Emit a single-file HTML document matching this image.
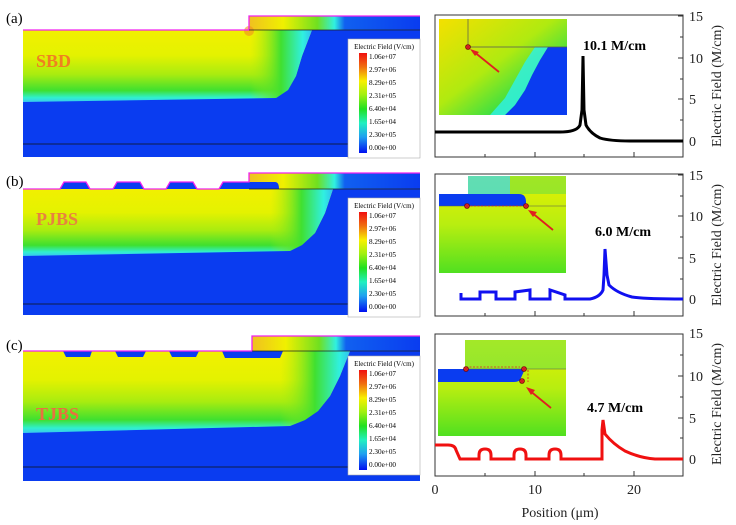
<!DOCTYPE html>
<html><head><meta charset="utf-8"><style>
html,body{margin:0;padding:0;background:#fff;}
svg{display:block;font-family:"Liberation Serif",serif;}
</style></head><body>
<svg width="736" height="525" viewBox="0 0 736 525" xmlns="http://www.w3.org/2000/svg">
<defs>
<linearGradient id="dep" x1="0" y1="0" x2="0" y2="1">
 <stop offset="0" stop-color="#f2f000"/><stop offset="0.35" stop-color="#e4f200"/>
 <stop offset="0.62" stop-color="#a8ec10"/><stop offset="0.84" stop-color="#3ee030"/>
 <stop offset="0.94" stop-color="#30f0d0"/><stop offset="1" stop-color="#38c8f0"/>
</linearGradient>
<linearGradient id="stepg" x1="0" y1="0" x2="1" y2="0">
 <stop offset="0" stop-color="#f0c020"/><stop offset="0.2" stop-color="#f0f000"/>
 <stop offset="0.4" stop-color="#70e020"/><stop offset="0.5" stop-color="#30f0e0"/>
 <stop offset="0.56" stop-color="#1060f0"/><stop offset="1" stop-color="#0a3cf0"/>
</linearGradient>
<linearGradient id="side" x1="0" y1="0" x2="1" y2="0">
 <stop offset="0" stop-color="#a8ec10" stop-opacity="0"/><stop offset="0.5" stop-color="#40e030"/>
 <stop offset="0.85" stop-color="#30f0e0"/><stop offset="1" stop-color="#30c0f0"/>
</linearGradient>
<linearGradient id="insA" x1="0" y1="0" x2="1" y2="1">
 <stop offset="0" stop-color="#f4e000"/><stop offset="0.45" stop-color="#b0ea10"/>
 <stop offset="0.7" stop-color="#40e040"/><stop offset="1" stop-color="#30e0d0"/>
</linearGradient>
<linearGradient id="insB" x1="0" y1="0" x2="0" y2="1">
 <stop offset="0" stop-color="#e8f000"/><stop offset="0.5" stop-color="#b8ee10"/>
 <stop offset="1" stop-color="#50e020"/>
</linearGradient>
<linearGradient id="leg" x1="0" y1="0" x2="0" y2="1">
 <stop offset="0" stop-color="#f01010"/><stop offset="0.14" stop-color="#f07010"/>
 <stop offset="0.28" stop-color="#f8f000"/><stop offset="0.42" stop-color="#a0f010"/>
 <stop offset="0.56" stop-color="#20e020"/><stop offset="0.7" stop-color="#20f0c0"/>
 <stop offset="0.84" stop-color="#20a0f0"/><stop offset="1" stop-color="#0010f0"/>
</linearGradient>
<g id="legend">
 <rect x="348" y="23" width="72" height="119" fill="#fff" stroke="#aaa" stroke-width="0.6"/>
 <text x="384" y="33" font-size="7" text-anchor="middle">Electric Field (V/cm)</text>
 <rect x="359" y="37" width="8" height="100" fill="url(#leg)"/>
 <g font-size="7.2">
 <text x="369" y="43">1.06e+07</text><text x="369" y="56">2.97e+06</text>
 <text x="369" y="69">8.29e+05</text><text x="369" y="82">2.31e+05</text>
 <text x="369" y="95">6.40e+04</text><text x="369" y="108">1.65e+04</text>
 <text x="369" y="121">2.30e+05</text><text x="369" y="134">0.00e+00</text>
 </g>
</g>
</defs>

<!-- Panel a -->
<g transform="translate(0,16)">
 <rect x="23" y="14" width="397" height="127" fill="#0a3cf0"/>
 <rect x="249" y="0" width="171" height="14" fill="url(#stepg)"/>
 <path d="M23 14 H312 L302 40 L296 60 L288 74 L276 82 L23 86 Z" fill="url(#dep)"/>
 <path d="M250 14 H312 L302 40 L296 60 L288 74 L276 82 L250 82 Z" fill="url(#side)"/>
 <circle cx="249" cy="15" r="5" fill="#f09020" opacity="0.6"/>
 <path d="M23 14 H249 V0 H420" fill="none" stroke="#f020f0" stroke-width="1.3"/>
 <line x1="249" y1="14" x2="420" y2="14" stroke="#222" stroke-width="0.8"/>
 <line x1="23" y1="128" x2="420" y2="128" stroke="#111" stroke-width="0.8"/>
 <text x="36" y="51" font-size="18" font-weight="bold" fill="#f08020">SBD</text>
 <use href="#legend"/>
</g>
<text x="6" y="23" font-size="15">(a)</text>

<!-- Panel b -->
<g transform="translate(0,173)">
 <rect x="23" y="16" width="397" height="126" fill="#0a3cf0"/>
 <rect x="249" y="0" width="171" height="16" fill="url(#stepg)"/>
 <path d="M23 16 H333 L325 40 L315 60 L302 72 L290 78 L23 83 Z" fill="url(#dep)"/>
 <path d="M270 16 H333 L325 40 L315 60 L302 72 L290 78 L270 78 Z" fill="url(#side)"/>
 <g fill="#0a3cf0">
  <path d="M60 16 L64 9 H86 L90 16 Z"/><path d="M113 16 L117 9 H140 L144 16 Z"/>
  <path d="M166 16 L170 9 H193 L197 16 Z"/><path d="M219 16 L223 9 H275 Q279 9 279 16 Z"/>
 </g>
 <path d="M23 16 H60 L64 9 H86 L90 16 H113 L117 9 H140 L144 16 H166 L170 9 H193 L197 16 H219 L223 9 H249 V0 H420" fill="none" stroke="#f020f0" stroke-width="1.3"/>
 <line x1="249" y1="16" x2="420" y2="16" stroke="#222" stroke-width="0.8"/>
 <line x1="23" y1="131" x2="420" y2="131" stroke="#111" stroke-width="0.8"/>
 <text x="36" y="52" font-size="18" font-weight="bold" fill="#e88040">PJBS</text>
 <use href="#legend" transform="translate(0,2)"/>
</g>
<text x="6" y="186" font-size="15">(b)</text>

<!-- Panel c -->
<g transform="translate(0,336)">
 <rect x="23" y="15" width="397" height="130" fill="#0a3cf0"/>
 <rect x="252" y="0" width="168" height="15" fill="url(#stepg)"/>
 <path d="M23 15 H350 L340 40 L330 60 L318 75 L305 84 L290 90 L23 97 Z" fill="url(#dep)"/>
 <path d="M280 15 H350 L340 40 L330 60 L318 75 L305 84 L290 90 L280 90 Z" fill="url(#side)"/>
 <g fill="#0a3cf0">
  <path d="M63 15 H92 L90 21 H66 Z"/><path d="M115 15 H146 L143 21 H118 Z"/>
  <path d="M169 15 H199 L196 21 H172 Z"/><path d="M222 15 H283 L280 22 H225 Z"/>
 </g>
 <path d="M23 15 H252 V0 H420" fill="none" stroke="#f020f0" stroke-width="1.3"/>
 <line x1="252" y1="15" x2="420" y2="15" stroke="#222" stroke-width="0.8"/>
 <line x1="23" y1="131" x2="420" y2="131" stroke="#111" stroke-width="0.8"/>
 <text x="36" y="84" font-size="18" font-weight="bold" fill="#e87040">TJBS</text>
 <use href="#legend" transform="translate(0,-3)"/>
</g>
<text x="6" y="350" font-size="15">(c)</text>

<!-- Plots -->
<g fill="none" stroke="#333" stroke-width="1">
 <rect x="435" y="15" width="248" height="142"/>
 <rect x="435" y="174" width="248" height="142"/>
 <rect x="435" y="334" width="248" height="142"/>
</g>
<g stroke="#333" stroke-width="1">
 <path d="M683 16h-5M683 58h-5M683 99h-5M683 141h-5M683 37h-3M683 79h-3M683 120h-3"/>
 <path d="M683 175h-5M683 216h-5M683 258h-5M683 299h-5M683 196h-3M683 237h-3M683 279h-3"/>
 <path d="M683 334h-5M683 376h-5M683 418h-5M683 459h-5M683 355h-3M683 397h-3M683 438h-3"/>
 <path d="M485 157v-3M535 157v-5M584 157v-3M634 157v-5"/>
 <path d="M485 316v-3M535 316v-5M584 316v-3M634 316v-5"/>
 <path d="M485 476v-3M535 476v-5M584 476v-3M634 476v-5"/>
</g>
<g font-size="14" fill="#222">
 <text x="689" y="21">15</text><text x="689" y="63">10</text><text x="689" y="104">5</text><text x="689" y="146">0</text>
 <text x="689" y="180">15</text><text x="689" y="221">10</text><text x="689" y="263">5</text><text x="689" y="304">0</text>
 <text x="689" y="338">15</text><text x="689" y="381">10</text><text x="689" y="423">5</text><text x="689" y="464">0</text>
 <text x="435" y="494" text-anchor="middle">0</text><text x="535" y="494" text-anchor="middle">10</text><text x="634" y="494" text-anchor="middle">20</text>
 <text x="560" y="517" text-anchor="middle">Position (μm)</text>
 <text transform="translate(721,86) rotate(-90)" text-anchor="middle">Electric Field (M/cm)</text>
 <text transform="translate(721,245) rotate(-90)" text-anchor="middle">Electric Field (M/cm)</text>
 <text transform="translate(721,404) rotate(-90)" text-anchor="middle">Electric Field (M/cm)</text>
</g>

<!-- insets -->
<g>
 <rect x="439" y="19" width="128" height="96" fill="url(#insA)"/>
 <path d="M548 47 H567 V115 H505 L515 105 L525 90 L532 75 L540 60 Z" fill="#0a3cf0"/>
 <path d="M535 47 H548 L540 60 L532 75 L525 90 L515 105 L505 115 H490 L505 98 L515 80 L525 62 Z" fill="#30f0e0" opacity="0.85"/>
 <path d="M468 19 V47 H567" fill="none" stroke="#555" stroke-width="0.7"/>
 <circle cx="468" cy="47" r="2.5" fill="#d02020" stroke="#600" stroke-width="0.6"/>
 <path d="M499 72 L473 51" stroke="#e02020" stroke-width="1.8"/><path d="M470 49 L479 52 L475 56 Z" fill="#e02020"/>
</g>
<g>
 <rect x="439" y="176" width="127" height="97" fill="url(#insB)"/>
 <rect x="439" y="176" width="29" height="18" fill="#fff"/>
 <path d="M468 176 H510 V194 H468 Z" fill="#40d8e0" opacity="0.8"/>
 <path d="M510 176 H566 V194 H510 Z" fill="#70e040" opacity="0.6"/>
 <path d="M439 194 H519 Q526 194 526 202 V206 H439 Z" fill="#0a3cf0"/>
 <line x1="439" y1="206" x2="566" y2="206" stroke="#555" stroke-width="0.6"/>
 <line x1="467" y1="206" x2="523" y2="206" stroke="#e02020" stroke-width="0.8" stroke-dasharray="2 1.5"/>
 <circle cx="467" cy="206" r="2.5" fill="#d02020" stroke="#600" stroke-width="0.6"/>
 <circle cx="526" cy="206" r="2.5" fill="#d02020" stroke="#600" stroke-width="0.6"/>
 <path d="M553 230 L531 212" stroke="#e02020" stroke-width="1.8"/><path d="M528 210 L537 212 L533 217 Z" fill="#e02020"/>
</g>
<g>
 <rect x="438" y="340" width="128" height="96" fill="url(#insB)"/>
 <rect x="465" y="340" width="101" height="29" fill="#60e050" opacity="0.5"/>
 <rect x="438" y="340" width="27" height="29" fill="#fff"/>
 <path d="M438 369 H520 L525 369 L520 380 Q518 382 514 382 H438 Z" fill="#0a3cf0"/>
 <line x1="465" y1="369" x2="566" y2="369" stroke="#555" stroke-width="0.6"/>
 <line x1="466" y1="367" x2="520" y2="367" stroke="#e02020" stroke-width="0.8" stroke-dasharray="2 1.5"/>
 <line x1="528" y1="370" x2="528" y2="382" stroke="#e02020" stroke-width="0.8" stroke-dasharray="2 1.5"/>
 <circle cx="466" cy="369" r="2.5" fill="#d02020" stroke="#600" stroke-width="0.6"/>
 <circle cx="524" cy="369" r="2.5" fill="#d02020" stroke="#600" stroke-width="0.6"/>
 <circle cx="522" cy="381" r="2.5" fill="#d02020" stroke="#600" stroke-width="0.6"/>
 <path d="M551 408 L529 390" stroke="#e02020" stroke-width="1.8"/><path d="M526 387 L535 390 L531 395 Z" fill="#e02020"/>
</g>

<!-- labels -->
<g font-size="14" font-weight="bold">
 <text x="583" y="50">10.1 M/cm</text>
 <text x="595" y="236">6.0 M/cm</text>
 <text x="587" y="412">4.7 M/cm</text>
</g>

<!-- curves -->
<path d="M435 132 H560 Q577 132 580 125 L582 110 L583 56 L584 110 L586 125 Q590 133 600 138 Q610 141 630 141 H683" fill="none" stroke="#000" stroke-width="3"/>
<path d="M461 293 V299 H480 V292 H496 V299 H515 V292 L530 290 V299 H550 V290 L565 295 V299 H590 Q600 297 603 290 L604 275 L605 249 L607 275 L609 285 Q617 293 632 297 Q645 299 683 299" fill="none" stroke="#1010f0" stroke-width="3"/>
<path d="M435 445 H448 Q455 445 456 450 L460 459 H479 V455 Q479 449 485 449 Q491 449 491 455 V459 H514 V455 Q514 449 520 449 Q526 449 526 455 V459 H549 V455 Q549 449 555 449 Q561 449 561 455 V459 H602 V430 L603 420 L605 434 Q613 444 625 451 Q640 458 655 459 H683" fill="none" stroke="#f01010" stroke-width="3"/>
</svg>
</body></html>
